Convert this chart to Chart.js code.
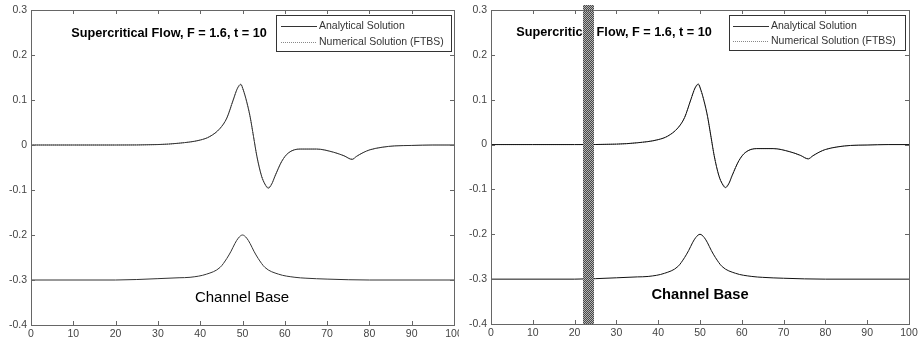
<!DOCTYPE html>
<html>
<head>
<meta charset="utf-8">
<script src="https://cdn.jsdelivr.net/npm/chart.js@4.4.1/dist/chart.umd.min.js"></script>
<style>
  body { margin: 0; background: #fff; }
  .panel { position: absolute; top: 0; width: 459px; height: 342px; }
</style>
</head>
<body>
<div class="panel" style="left:0"><canvas id="leftChart" width="459" height="342"></canvas></div>
<div class="panel" style="left:459px"><canvas id="rightChart" width="459" height="342"></canvas></div>
<script>
// water surface
const surfaceX = [0, 10, 20, 30, 35, 40, 42.3, 44.7, 46.3, 47.8, 48.8, 49.6, 50.2, 51, 51.8, 52.6, 53.4, 54.5, 55.3, 56.1, 56.9, 57.7, 59.3, 60.8, 63.6, 67.5, 71.5, 74, 75.9, 77, 78.5, 80, 83, 86, 90, 95, 100];
const analytical = [0, 0, 0, 0.001, 0.004, 0.011, 0.019, 0.037, 0.06, 0.1, 0.126, 0.135, 0.122, 0.096, 0.063, 0.019, -0.025, -0.069, -0.087, -0.096, -0.087, -0.069, -0.036, -0.018, -0.009, -0.009, -0.016, -0.024, -0.032, -0.025, -0.017, -0.011, -0.005, -0.002, -0.001, 0, 0];
const numerical = [0, 0, 0, 0.001, 0.004, 0.011, 0.019, 0.037, 0.06, 0.1, 0.125, 0.133, 0.121, 0.095, 0.062, 0.019, -0.025, -0.068, -0.086, -0.094, -0.086, -0.068, -0.036, -0.018, -0.009, -0.009, -0.016, -0.024, -0.031, -0.025, -0.017, -0.011, -0.005, -0.002, -0.001, 0, 0];

// channel bed
const baseX = [0, 20, 30, 35, 37.6, 41.5, 44.7, 46.3, 47.3, 48.2, 49, 50, 51, 51.8, 52.7, 53.7, 55.3, 58.5, 62.4, 65, 70, 80, 100];
const channelBase = [-0.3, -0.3, -0.297, -0.295, -0.294, -0.287, -0.272, -0.252, -0.236, -0.219, -0.207, -0.2, -0.207, -0.219, -0.236, -0.252, -0.272, -0.287, -0.294, -0.296, -0.298, -0.3, -0.3];

const xTicks = [0, 10, 20, 30, 40, 50, 60, 70, 80, 90, 100];
const yTicks = [-0.4, -0.3, -0.2, -0.1, 0, 0.1, 0.2, 0.3];
const labels = ["Analytical Solution", "Numerical Solution (FTBS)"];
const titleText = "Supercritical Flow, F = 1.6, t = 10";
const baseText = "Channel Base";
const band = [22.1, 24.7]; // shaded strip on the right plot

const FONT = '"Liberation Sans", Arial, sans-serif';
const pts = (xs, ys) => xs.map((x, i) => ({x: x, y: ys[i]}));

function hatch(ctx) {
  const c = document.createElement('canvas');
  c.width = 2; c.height = 2;
  const g = c.getContext('2d');
  g.fillStyle = '#b4b4b4'; g.fillRect(0, 0, 2, 2);
  g.fillStyle = '#484848'; g.fillRect(0, 0, 1, 1); g.fillRect(1, 1, 1, 1);
  return ctx.createPattern(c, 'repeat');
}

// frame, inward ticks, title, legend, labels
const decor = {
  id: 'decor',
  beforeDatasetsDraw(chart, args, o) {
    const ctx = chart.ctx;
    ctx.save();
    ctx.fillStyle = '#000';
    ctx.font = 'bold ' + o.title.size + 'px ' + FONT;
    ctx.textAlign = 'center';
    ctx.textBaseline = 'middle';
    ctx.fillText(titleText, o.title.x, o.title.y);
    ctx.font = o.base.weight + ' ' + o.base.size + 'px ' + FONT;
    ctx.fillText(baseText, o.base.x, o.base.y);
    ctx.restore();
  },
  afterDatasetsDraw(chart, args, o) {
    const ctx = chart.ctx, a = chart.chartArea;
    const sx = chart.scales.x, sy = chart.scales.y;
    ctx.save();
    if (o.band) {
      const x0 = Math.round(sx.getPixelForValue(band[0])), x1 = Math.round(sx.getPixelForValue(band[1]));
      ctx.fillStyle = hatch(ctx);
      ctx.fillRect(x0, a.top - 5, x1 - x0, a.bottom - a.top + 5);
    }
    ctx.strokeStyle = '#666';
    ctx.lineWidth = 1;
    ctx.strokeRect(Math.round(a.left) + 0.5, Math.round(a.top) + 0.5, Math.round(a.right - a.left), Math.round(a.bottom - a.top));
    ctx.beginPath();
    xTicks.forEach(v => {
      const px = Math.round(sx.getPixelForValue(v)) + 0.5;
      ctx.moveTo(px, a.bottom); ctx.lineTo(px, a.bottom - 4);
      ctx.moveTo(px, a.top); ctx.lineTo(px, a.top + 4);
    });
    yTicks.forEach(v => {
      const py = Math.round(sy.getPixelForValue(v)) + 0.5;
      ctx.moveTo(a.left, py); ctx.lineTo(a.left + 4, py);
      ctx.moveTo(a.right, py); ctx.lineTo(a.right - 4, py);
    });
    ctx.stroke();

    // legend
    const L = o.legend;
    ctx.fillStyle = '#fff';
    ctx.fillRect(L.x0, L.y0, L.x1 - L.x0, L.y1 - L.y0);
    ctx.strokeStyle = '#333';
    ctx.strokeRect(L.x0 + 0.5, L.y0 + 0.5, L.x1 - L.x0, L.y1 - L.y0);
    ctx.font = '10.5px ' + FONT;
    ctx.textBaseline = 'middle';
    ctx.fillStyle = '#333';
    [0, 1].forEach(i => {
      const y = L.rows[i] + 0.5;
      ctx.beginPath();
      ctx.strokeStyle = i ? '#888' : '#333';
      ctx.setLineDash(i ? [1, 1] : []);
      ctx.moveTo(L.lx0, y); ctx.lineTo(L.lx1, y);
      ctx.stroke();
      ctx.setLineDash([]);
      ctx.fillText(labels[i], L.tx, L.rows[i]);
    });
    ctx.restore();
  }
};

function makeChart(id, p) {
  const lineOpts = {pointRadius: 0, borderWidth: 1, fill: false, tension: 0.4, cubicInterpolationMode: 'monotone'};
  const tickFont = {size: 10.5, family: FONT};
  return new Chart(document.getElementById(id), {
    type: 'line',
    data: {
      datasets: [
        Object.assign({label: labels[0], data: pts(surfaceX, analytical), borderColor: p.solid}, lineOpts),
        Object.assign({label: labels[1], data: pts(surfaceX, numerical), borderColor: '#8a8a8a', borderDash: [1, 1]}, lineOpts),
        Object.assign({label: baseText, data: pts(baseX, channelBase), borderColor: p.solid}, lineOpts)
      ]
    },
    options: {
      responsive: false,
      animation: false,
      layout: {padding: {top: 10, right: p.padRight, left: 0, bottom: 0}},
      plugins: {
        legend: {display: false},
        tooltip: {enabled: false},
        decor: p.decor
      },
      scales: {
        x: {
          type: 'linear', min: 0, max: 100,
          afterBuildTicks: s => { s.ticks = xTicks.map(v => ({value: v})); },
          afterFit: s => { s.height = p.xh; s.paddingLeft = 0; s.paddingRight = 0; },
          grid: {display: false, drawTicks: false},
          border: {display: false},
          ticks: {color: '#444', padding: 3, maxRotation: 0, font: tickFont}
        },
        y: {
          min: -0.4, max: 0.3,
          afterBuildTicks: s => { s.ticks = yTicks.map(v => ({value: v})); },
          afterFit: s => { s.width = p.yw; s.paddingTop = 0; s.paddingBottom = 0; },
          grid: {display: false, drawTicks: false},
          border: {display: false},
          ticks: {
            color: '#444', padding: 4, font: tickFont,
            callback: v => String(Number(v.toFixed(1)))
          }
        }
      }
    },
    plugins: [decor]
  });
}

window.onload = function () {
  makeChart('leftChart', {
    solid: '#333', padRight: 5, xh: 17, yw: 31,
    decor: {
      band: false,
      title: {x: 169, y: 33, size: 12.7},
      base: {x: 242, y: 298, size: 15, weight: 'normal'},
      legend: {x0: 276, y0: 15, x1: 451, y1: 51, rows: [26, 42], lx0: 281, lx1: 317, tx: 319}
    }
  });
  makeChart('rightChart', {
    solid: '#111', padRight: 9, xh: 18, yw: 32,
    decor: {
      band: true,
      title: {x: 614 - 459, y: 32, size: 12.7},
      base: {x: 241, y: 295, size: 14.7, weight: 'bold'},
      legend: {x0: 270, y0: 15, x1: 446, y1: 50, rows: [26, 41], lx0: 274, lx1: 310, tx: 312}
    }
  });
};
</script>
</body>
</html>
